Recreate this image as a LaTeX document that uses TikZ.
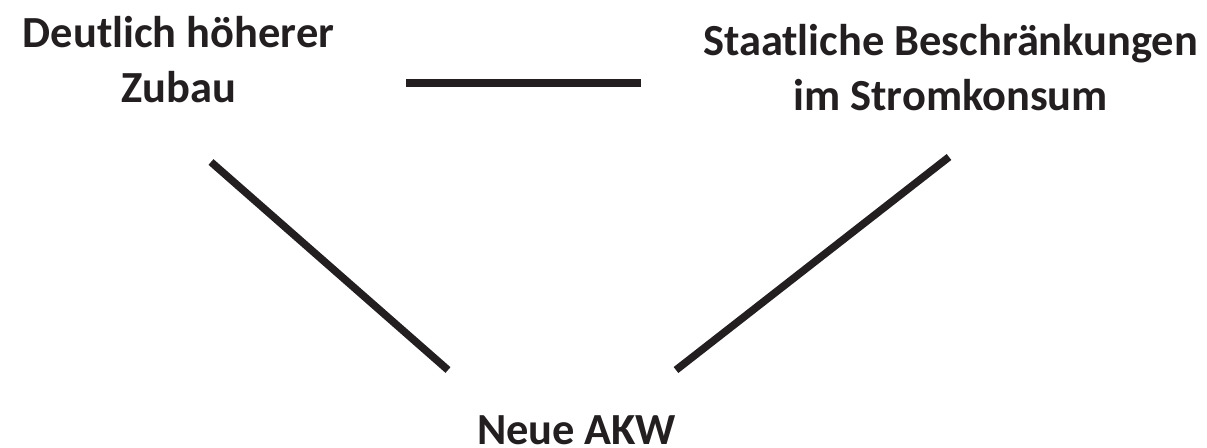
\documentclass[tikz,border=0pt]{standalone}
\usepackage{fontspec}
\setmainfont{Carlito}
\definecolor{ink}{HTML}{231F20}
\tikzset{every picture/.style={line width=4.3pt}}
\tikzset{label node/.style={align=center, anchor=base, font=\bfseries\fontsize{25.3}{31.2}\selectfont, text=ink, inner sep=0pt}}

\begin{document}
\begin{tikzpicture}[x=0.02cm,y=-0.02cm]
        \useasboundingbox (0,0) rectangle (1207,447);
        \node[label node] (zubau) at (178.5,102) {Deutlich höherer\\Zubau};
        \node[label node] (staat) at (950.5,110) {Staatliche Beschränkungen\\im Stromkonsum};
        \node[label node] (akw) at (576.5,444) {Neue AKW};
        \coordinate (zr) at (406,83);
        \coordinate (sl) at (641,83);
        \coordinate (zu) at (211,162);
        \coordinate (al) at (448,370);
        \coordinate (su) at (949,157);
        \coordinate (ar) at (676,370);
        \draw[ink] (zr) -- (sl);
        \draw[ink] (zu) -- (al);
        \draw[ink] (su) -- (ar);
    \end{tikzpicture}
\end{document}
